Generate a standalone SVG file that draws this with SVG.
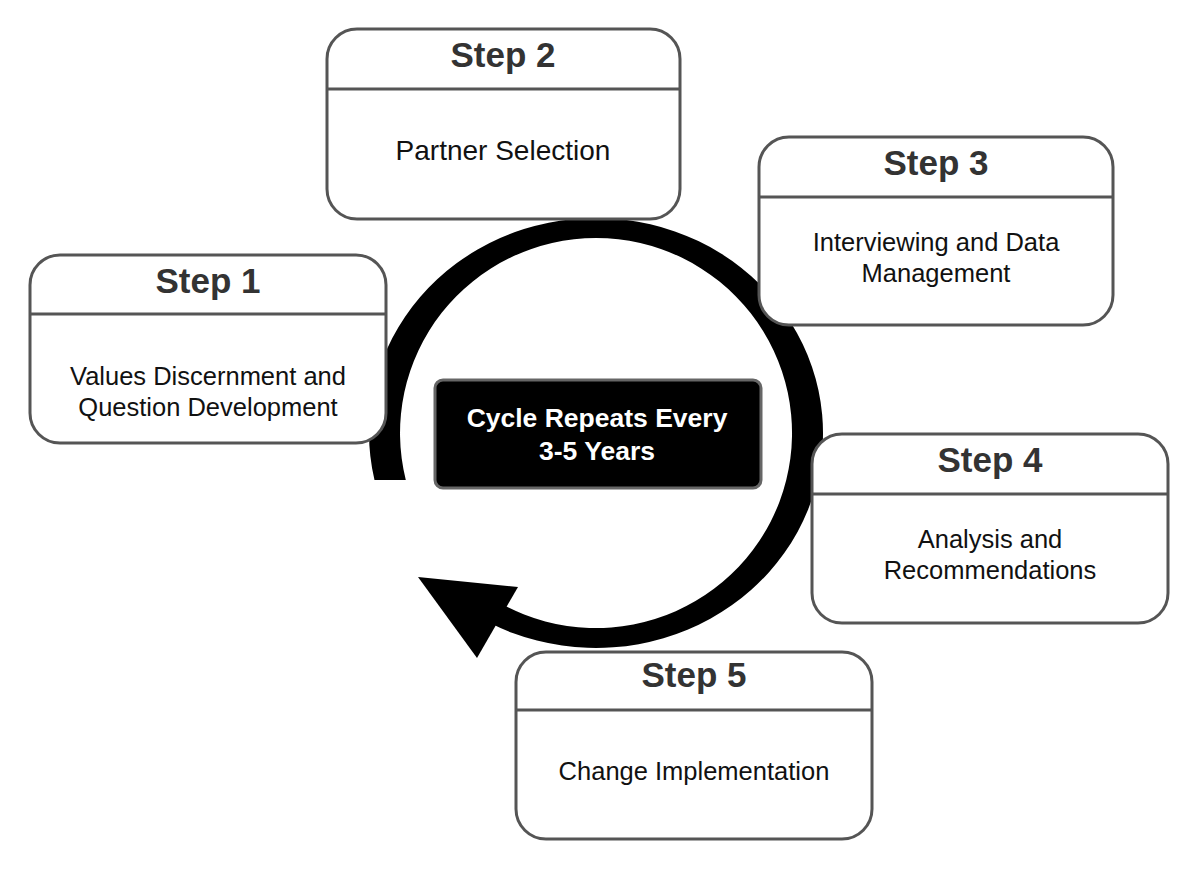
<svg xmlns="http://www.w3.org/2000/svg" width="1200" height="872" viewBox="0 0 1200 872">
<style>
.box{fill:#fff;stroke:#555;stroke-width:3}
.div{stroke:#555;stroke-width:3}
.title{font-family:"Liberation Sans",Arial,sans-serif;font-weight:bold;font-size:35px;fill:#333;text-anchor:middle}
.body{font-family:"Liberation Sans",Arial,sans-serif;font-size:25.5px;fill:#111;text-anchor:middle}
.center{font-family:"Liberation Sans",Arial,sans-serif;font-weight:bold;font-size:26.5px;fill:#fff;text-anchor:middle}
</style>
<rect width="1200" height="872" fill="#fff"/>
<g id="connectors">
<path d="M374.5,480 A227,215 0 1 1 489.4,622.8 L504,605.2 A196,195 0 1 0 405.8,480 Z" fill="#000"/>
<polygon points="418,577 518,587 477,658" fill="#000"/>
</g>
<g id="center">
<rect x="435" y="380" width="326" height="108" rx="8" fill="#000" stroke="#666" stroke-width="3"/>
<text class="center" x="597" y="427">Cycle Repeats Every</text>
<text class="center" x="597" y="460">3-5 Years</text>
</g>
<g id="step1">
<rect class="box" x="30" y="255" width="356" height="188" rx="30"/>
<line class="div" x1="30" y1="314" x2="386" y2="314"/>
<text class="title" x="208" y="293">Step 1</text>
<text class="body" x="208" y="385">Values Discernment and</text>
<text class="body" x="208" y="416">Question Development</text>
</g>
<g id="step2">
<rect class="box" x="327" y="29" width="353" height="190" rx="30"/>
<line class="div" x1="327" y1="89" x2="680" y2="89"/>
<text class="title" x="503" y="67">Step 2</text>
<text class="body" x="503" y="160" style="font-size:28px">Partner Selection</text>
</g>
<g id="step3">
<rect class="box" x="759" y="137" width="354" height="188" rx="30"/>
<line class="div" x1="759" y1="197" x2="1113" y2="197"/>
<text class="title" x="936" y="175">Step 3</text>
<text class="body" x="936" y="251">Interviewing and Data</text>
<text class="body" x="936" y="282">Management</text>
</g>
<g id="step4">
<rect class="box" x="812" y="434" width="356" height="189" rx="30"/>
<line class="div" x1="812" y1="494" x2="1168" y2="494"/>
<text class="title" x="990" y="472">Step 4</text>
<text class="body" x="990" y="548">Analysis and</text>
<text class="body" x="990" y="579">Recommendations</text>
</g>
<g id="step5">
<rect class="box" x="516" y="652" width="356" height="187" rx="30"/>
<line class="div" x1="516" y1="710" x2="872" y2="710"/>
<text class="title" x="694" y="687">Step 5</text>
<text class="body" x="694" y="780">Change Implementation</text>
</g>
</svg>
